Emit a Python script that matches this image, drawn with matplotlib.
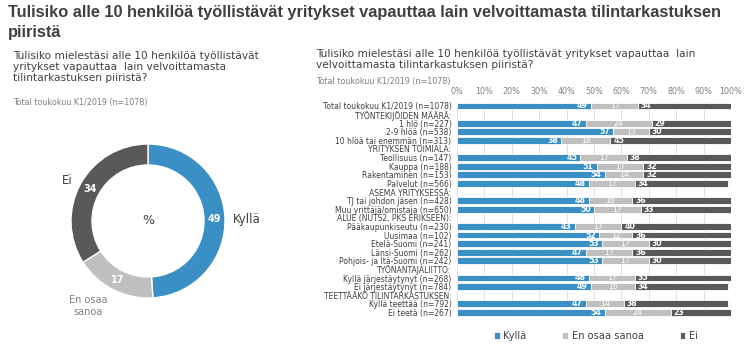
import matplotlib
matplotlib.use("Agg")
import matplotlib.pyplot as plt
import numpy as np

plt.rcParams['font.family'] = ['DejaVu Sans']

# ---------------- data ----------------
donut_labels = ["Kyllä", "En osaa sanoa", "Ei"]
donut_values = [49, 17, 34]

row_labels = [
    "Total toukokuu K1/2019 (n=1078)",
    "TYÖNTEKIJÖIDEN MÄÄRÄ:",
    "1 hlö (n=227)",
    "2-9 hlöä (n=538)",
    "10 hlöä tai enemmän (n=313)",
    "YRITYKSEN TOIMIALA:",
    "Teollisuus (n=147)",
    "Kauppa (n=188)",
    "Rakentaminen (n=153)",
    "Palvelut (n=566)",
    "ASEMA YRITYKSESSÄ:",
    "TJ tai johdon jäsen (n=428)",
    "Muu yrittäjä/omistaja (n=650)",
    "ALUE (NUTS2, PKS ERIKSEEN):",
    "Pääkaupunkiseutu (n=230)",
    "Uusimaa (n=102)",
    "Etelä-Suomi (n=241)",
    "Länsi-Suomi (n=262)",
    "Pohjois- ja Itä-Suomi (n=242)",
    "TYÖNANTAJALIITTO:",
    "Kyllä järjestäytynyt (n=268)",
    "Ei järjestäytynyt (n=784)",
    "TEETTÄÄKÖ TILINTARKASTUKSEN:",
    "Kyllä teettää (n=792)",
    "Ei teetä (n=267)",
]
kylla = [49, None, 47, 57, 38, None, 45, 51, 54, 48, None, 48, 50, None,
         43, 52, 53, 47, 53, None, 48, 49, None, 47, 54]
en_osaa = [17, None, 24, 13, 18, None, 17, 17, 14, 17, None, 16, 17, None,
           17, 12, 17, 17, 17, None, 17, 16, None, 14, 24]
ei = [34, None, 29, 30, 45, None, 38, 32, 32, 34, None, 36, 33, None,
      40, 36, 30, 36, 30, None, 35, 34, None, 38, 23]

x_ticks = [0, 10, 20, 30, 40, 50, 60, 70, 80, 90, 100]
x_ticklabels = [f"{t}%" for t in x_ticks]

# ---------------- style ----------------
C_BLUE = "#3a8fc4"
C_LGRAY = "#bfbfbf"
C_DGRAY = "#595959"
C_TEXT = "#404040"
C_SUB = "#808080"

W, H = 750, 348
fig = plt.figure(figsize=(W / 100, H / 100), dpi=100)


def fx(px):
    return px / W


def fy(py):
    return 1 - py / H


# title
title_l1 = "Tulisiko alle 10 henkilöä työllistävät yritykset vapauttaa lain velvoittamasta tilintarkastuksen"
t1 = fig.text(fx(8), fy(12.7), title_l1, fontsize=10, fontweight="bold",
              family="Liberation Sans", color=C_TEXT, va="center", ha="left")
fig.canvas.draw()
r = fig.canvas.get_renderer()
wpx = t1.get_window_extent(r).width
fs = 10 * 717 / wpx
t1.set_fontsize(fs)
fig.text(fx(8), fy(32.5), "piiristä", fontsize=fs, fontweight="bold",
         family="Liberation Sans", color=C_TEXT, va="center", ha="left")

# left subtitle
for i, line in enumerate(["Tulisiko mielestäsi alle 10 henkilöä työllistävät",
                          "yritykset vapauttaa  lain velvoittamasta",
                          "tilintarkastuksen piiristä?"]):
    fig.text(fx(13), fy(56 + 11.2 * i), line, fontsize=7.6, color=C_TEXT,
             va="center", ha="left")
fig.text(fx(13), fy(103), "Total toukokuu K1/2019 (n=1078)", fontsize=5.8,
         color=C_SUB, va="center", ha="left")

# right subtitle
for i, line in enumerate(["Tulisiko mielestäsi alle 10 henkilöä työllistävät yritykset vapauttaa  lain",
                          "velvoittamasta tilintarkastuksen piiristä?"]):
    fig.text(fx(316), fy(54 + 11.2 * i), line, fontsize=7.6, color=C_TEXT,
             va="center", ha="left")
fig.text(fx(316), fy(81.5), "Total toukokuu K1/2019 (n=1078)", fontsize=5.8,
         color=C_SUB, va="center", ha="left")

# ---------------- donut ----------------
axd = fig.add_axes([fx(48), fy(321), fx(200), 200 / H])
axd.axis("off")
wedges, _ = axd.pie(donut_values, colors=[C_BLUE, C_LGRAY, C_DGRAY],
                    startangle=90, counterclock=False, radius=0.77,
                    wedgeprops=dict(width=0.21, edgecolor="white", linewidth=1.0))
axd.set_xlim(-1, 1)
axd.set_ylim(-1, 1)
axd.set_aspect("equal")
for w, v in zip(wedges, donut_values):
    ang = np.deg2rad((w.theta1 + w.theta2) / 2)
    axd.text(0.665 * np.cos(ang), 0.665 * np.sin(ang), str(v), color="white",
             fontsize=7, fontweight="bold", ha="center", va="center")
axd.text(0, 0, "%", fontsize=9, color=C_TEXT, ha="center", va="center")
axd.text(0.85, 0.01, donut_labels[0], fontsize=8.5, color=C_TEXT, ha="left", va="center")
axd.text(-0.86, 0.41, donut_labels[2], fontsize=8.5, color=C_TEXT, ha="left", va="center")
axd.text(-0.6, -0.85, "En osaa\nsanoa", fontsize=7, color=C_SUB, ha="center",
         va="center", linespacing=1.15)

# ---------------- stacked bars ----------------
top_px, bot_px = 101.7, 316.7
axb = fig.add_axes([fx(457), fy(bot_px), fx(731 - 457), (bot_px - top_px) / H])
y = np.arange(len(row_labels))
k = np.array([np.nan if v is None else v for v in kylla], dtype=float)
e = np.array([np.nan if v is None else v for v in en_osaa], dtype=float)
n = np.array([np.nan if v is None else v for v in ei], dtype=float)
bh = 0.8
b1 = axb.barh(y, k, height=bh, color=C_BLUE, edgecolor="white", linewidth=0.6, zorder=3, label="Kyllä")
b2 = axb.barh(y, e, left=k, height=bh, color=C_LGRAY, edgecolor="white", linewidth=0.6, zorder=3, label="En osaa sanoa")
b3 = axb.barh(y, n, left=k + e, height=bh, color=C_DGRAY, edgecolor="white", linewidth=0.6, zorder=3, label="Ei")
axb.set_xlim(0, 100)
axb.set_ylim(len(row_labels) - 0.5, -0.5)
axb.set_xticks(x_ticks)
axb.set_xticklabels(x_ticklabels)
axb.xaxis.tick_top()
axb.tick_params(axis="x", length=0, labelsize=5.8, labelcolor=C_SUB, pad=4)
axb.set_yticks(y)
axb.set_yticklabels(row_labels)
axb.tick_params(axis="y", length=0, labelsize=5.5, labelcolor=C_TEXT, pad=4)
axb.grid(axis="x", color="#d9d9d9", linewidth=0.6, zorder=0)
for s in axb.spines.values():
    s.set_visible(False)

for i in range(len(row_labels)):
    if np.isnan(k[i]):
        continue
    axb.text(k[i] - 1.2, y[i], f"{int(k[i])}", color="white", fontsize=5.6,
             fontweight="bold", ha="right", va="center", zorder=4)
    axb.text(k[i] + e[i] / 2, y[i], f"{int(e[i])}", color="white", fontsize=5.6,
             ha="center", va="center", zorder=4)
    axb.text(k[i] + e[i] + 1.0, y[i], f"{int(n[i])}", color="white", fontsize=5.6,
             fontweight="bold", ha="left", va="center", zorder=4)

fig.legend(handles=[b1, b2, b3], labels=["Kyllä", "En osaa sanoa", "Ei"],
           loc="center", bbox_to_anchor=(fx(596), fy(336)), ncol=3, frameon=False,
           fontsize=7.1, handlelength=0.6, handleheight=0.6, handletextpad=0.4,
           columnspacing=3.6, labelcolor=C_TEXT)

fig.savefig("out.png", dpi=100)
